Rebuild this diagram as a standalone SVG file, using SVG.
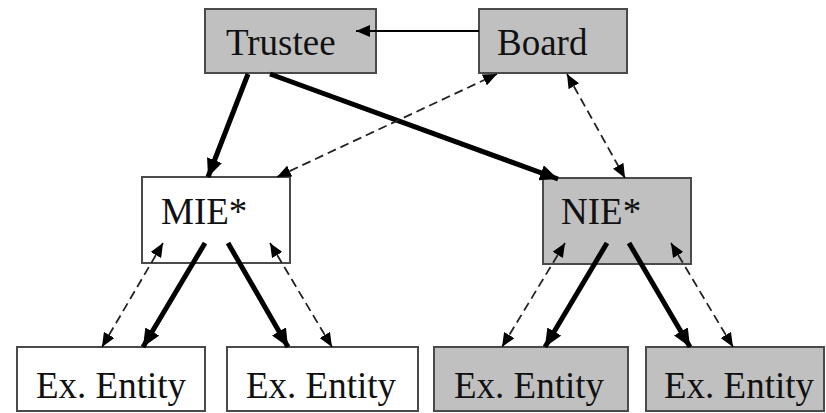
<svg xmlns="http://www.w3.org/2000/svg" width="826" height="413" viewBox="0 0 826 413">
<style>
.box{stroke:#4a4a4a;stroke-width:2}
.g{fill:#c0c0c0}
.w{fill:#ffffff}
text{font-family:"Liberation Serif","Times New Roman",serif;font-size:37px;fill:#111}
.thick{stroke:#000;stroke-width:5;fill:none}
.thin{stroke:#000;stroke-width:2;fill:none}
.dash{stroke:#222;stroke-width:1.8;stroke-dasharray:9 5;fill:none}
</style>
<defs>
<marker id="ah" markerUnits="userSpaceOnUse" markerWidth="20" markerHeight="16" refX="18" refY="8" orient="auto"><path d="M0,0 L18,8 L0,16 Z" fill="#000"/></marker>
<marker id="ahs" markerUnits="userSpaceOnUse" markerWidth="15" markerHeight="12" refX="14" refY="6" orient="auto-start-reverse"><path d="M0,0 L14,6 L0,12 Z" fill="#000"/></marker>
</defs>
<rect width="826" height="413" fill="#fff"/>
<g id="trustee"><rect class="box g" x="205" y="9" width="171" height="64"/><text x="226" y="55">Trustee</text></g>
<g id="board"><rect class="box g" x="479" y="9" width="148" height="64"/><text x="497" y="55">Board</text></g>
<g id="mie"><rect class="box w" x="142" y="177" width="148" height="86"/><text x="161" y="224">MIE*</text></g>
<g id="nie"><rect class="box g" x="543" y="178" width="148" height="86"/><text x="561" y="224">NIE*</text></g>
<g id="ex1"><rect class="box w" x="17" y="347" width="188" height="64"/><text x="36" y="398">Ex. Entity</text></g>
<g id="ex2"><rect class="box w" x="227" y="347" width="191" height="64"/><text x="246" y="398">Ex. Entity</text></g>
<g id="ex3"><rect class="box g" x="434" y="347" width="194" height="64"/><text x="454" y="398">Ex. Entity</text></g>
<g id="ex4"><rect class="box g" x="646" y="347" width="178" height="64"/><text x="664" y="398">Ex. Entity</text></g>
<g id="connectors">
<line class="thin" x1="479" y1="31" x2="356" y2="31" marker-end="url(#ahs)"/>
<line class="thick" x1="248" y1="74" x2="208" y2="177" marker-end="url(#ah)"/>
<line class="thick" x1="270" y1="74" x2="558" y2="179" marker-end="url(#ah)"/>
<line class="dash" x1="277" y1="177" x2="497" y2="74" marker-start="url(#ahs)" marker-end="url(#ahs)"/>
<line class="dash" x1="567" y1="74" x2="625" y2="178" marker-start="url(#ahs)" marker-end="url(#ahs)"/>
<line class="thick" x1="205" y1="243" x2="143" y2="347" marker-end="url(#ah)"/>
<line class="thick" x1="228" y1="243" x2="288" y2="347" marker-end="url(#ah)"/>
<line class="dash" x1="163" y1="243" x2="102" y2="347" marker-start="url(#ahs)" marker-end="url(#ahs)"/>
<line class="dash" x1="270" y1="243" x2="332" y2="347" marker-start="url(#ahs)" marker-end="url(#ahs)"/>
<line class="thick" x1="607" y1="243" x2="545" y2="347" marker-end="url(#ah)"/>
<line class="thick" x1="629" y1="243" x2="690" y2="347" marker-end="url(#ah)"/>
<line class="dash" x1="565" y1="243" x2="502" y2="347" marker-start="url(#ahs)" marker-end="url(#ahs)"/>
<line class="dash" x1="671" y1="243" x2="733" y2="347" marker-start="url(#ahs)" marker-end="url(#ahs)"/>
</g>
</svg>
